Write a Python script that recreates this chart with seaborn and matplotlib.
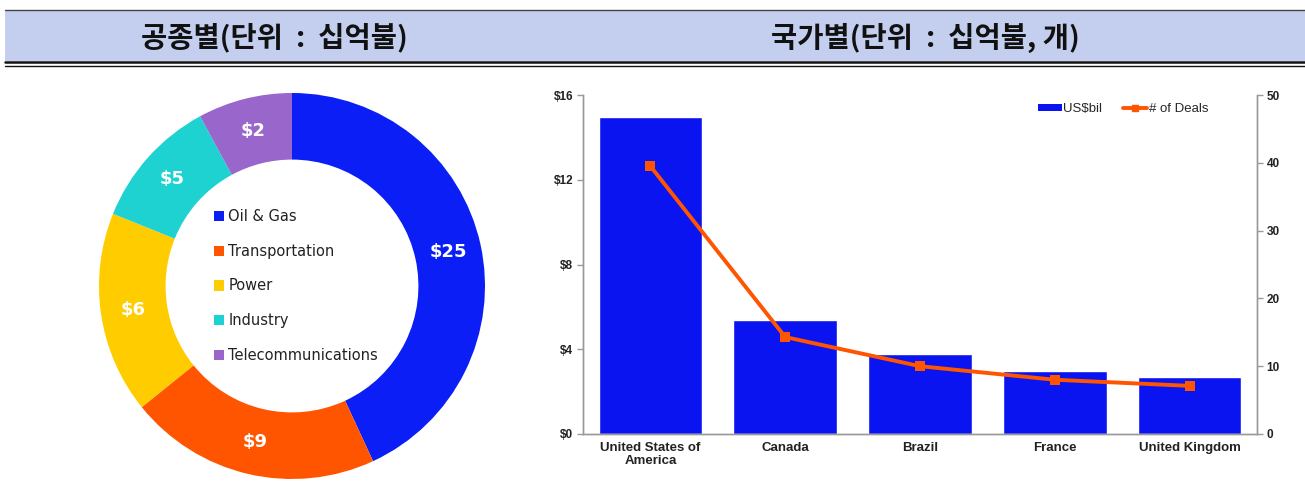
import numpy as np
import pandas as pd
import matplotlib
matplotlib.use("Agg")
import matplotlib.pyplot as plt
import seaborn as sns
from matplotlib.patches import Rectangle, Patch
from matplotlib.lines import Line2D

# 공종별 (donut)
sectors = ["Oil & Gas", "Transportation", "Power", "Industry", "Telecommunications"]
sector_share = [43.1, 21.1, 16.9, 11.0, 7.9]  # slice size (%)
sector_labels = ["$25", "$9", "$6", "$5", "$2"]
sector_colors = ["#0A1EF5", "#FF5500", "#FFCC00", "#1ED2D2", "#9966CC"]

# 국가별 (bar + line)
countries = ["United States of\nAmerica", "Canada", "Brazil", "France", "United Kingdom"]
usd_bil = [14.96, 5.38, 3.78, 2.97, 2.69]
deals = [39.5, 14.3, 10.0, 8.0, 7.1]
left_ticks = [0, 4, 8, 12, 16]
right_ticks = [0, 10, 20, 30, 40, 50]

sns.set_theme(style="white")
plt.rcParams["font.family"] = ["Noto Sans CJK KR", "DejaVu Sans"]

W, H = 1305, 487
fig = plt.figure(figsize=(W / 100, H / 100), dpi=100)

# header band
fig.patches.append(Rectangle((5 / W, 1 - 61 / H), 1, 51 / H, transform=fig.transFigure,
                             facecolor="#C4CFF0", edgecolor="none", zorder=0))
fig.add_artist(Line2D([5 / W, 1], [1 - 10 / H] * 2, color="#444444", lw=1.0))
fig.add_artist(Line2D([5 / W, 1], [1 - 61.5 / H] * 2, color="#111111", lw=1.8))
fig.add_artist(Line2D([5 / W, 1], [1 - 65.5 / H] * 2, color="#111111", lw=1.0))
fig.text(274 / W, 1 - 38 / H, "공종별(단위  :  십억불)", ha="center", va="center",
         fontsize=20.5, fontweight="bold", color="#111111")
fig.text(925 / W, 1 - 38 / H, "국가별(단위  :  십억불, 개)", ha="center", va="center",
         fontsize=20.5, fontweight="bold", color="#111111")

# donut
axd = fig.add_axes([99 / W, (H - 479) / H, 386 / W, 386 / H])
wedges, _ = axd.pie(sector_share, colors=sector_colors, startangle=90, counterclock=False,
                    radius=1.0, wedgeprops=dict(width=0.345, edgecolor="none"))
axd.set_xlim(-1, 1)
axd.set_ylim(-1, 1)
for w, lab in zip(wedges, sector_labels):
    ang = np.deg2rad((w.theta1 + w.theta2) / 2)
    axd.text(0.83 * np.cos(ang), 0.83 * np.sin(ang), lab, ha="center", va="center",
             color="white", fontsize=13, fontweight="bold", family="DejaVu Sans")
handles = [Patch(facecolor=c, edgecolor="none") for c in sector_colors]
axd.legend(handles, sectors, loc="center", bbox_to_anchor=(0.51, 0.5), frameon=False,
           handlelength=0.7, handleheight=0.7, handletextpad=0.3, labelspacing=1.35,
           prop=dict(family="DejaVu Sans", size=10.5), labelcolor="#222222")

# bars + line
axb = fig.add_axes([583 / W, (H - 434) / H, 674 / W, 339 / H])
df = pd.DataFrame({"country": countries, "usd": usd_bil, "deals": deals})
sns.barplot(data=df, x="country", y="usd", color="#0A14F0", saturation=1, width=0.77, ax=axb)
axb.set_xlim(-0.5, len(countries) - 0.5)
axb.set_ylim(0, 16)
axb.set_yticks(left_ticks)
axb.set_yticklabels([f"${t}" for t in left_ticks])
axb.set_xlabel("")
axb.set_ylabel("")

ax2 = axb.twinx()
sns.lineplot(x=np.arange(len(countries)), y=df["deals"], color="#FF5500", lw=2.8,
             marker="s", markersize=7, markeredgewidth=0, ax=ax2)
ax2.set_ylim(0, 50)
ax2.set_yticks(right_ticks)
ax2.set_ylabel("")
axb.set_xlim(-0.5, len(countries) - 0.5)

for a in (axb, ax2):
    for s in a.spines.values():
        s.set_color("#999999")
        s.set_linewidth(1.0)
    a.spines["top"].set_visible(False)
    a.tick_params(length=4, width=1, color="#999999", labelsize=8.5, pad=3)
    for lab in a.get_yticklabels():
        lab.set_fontweight("bold")
        lab.set_family("Liberation Sans")
        lab.set_color("#222222")

axb.set_xticks(np.arange(len(countries)))
axb.set_xticklabels(countries, fontsize=9.5, fontweight="bold", family="Liberation Sans",
                    color="#222222", linespacing=1.05)
axb.tick_params(axis="x", length=0, pad=6)
axb.set_xticks(np.arange(len(countries) + 1) - 0.5, minor=True)
axb.tick_params(axis="x", which="minor", length=4, width=1, color="#999999")
axb.tick_params(axis="y", which="both", left=True)
ax2.tick_params(axis="y", right=True)

leg_handles = [Patch(facecolor="#0A14F0", edgecolor="none"),
               Line2D([], [], color="#FF5500", lw=2.8, marker="s", markersize=5)]
ax2.legend(leg_handles, ["US$bil", "# of Deals"], loc="upper right", bbox_to_anchor=(0.945, 1.01),
           ncol=2, frameon=False, handlelength=1.8, handleheight=0.45, handletextpad=0.1,
           columnspacing=1.6, prop=dict(family="Liberation Sans", size=9.5))

fig.savefig("out.png", dpi=100)
